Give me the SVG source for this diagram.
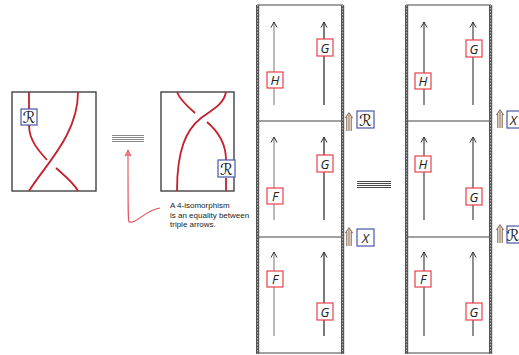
<svg xmlns="http://www.w3.org/2000/svg" width="519" height="355" viewBox="0 0 519 355">
  <style>
    .frame { fill: none; stroke: #333; stroke-width: 1.3; }
    .strand { fill: none; stroke: #c4202e; stroke-width: 1.8; stroke-linecap: butt; }
    .rbox { fill: #fff; stroke: #4a55a8; stroke-width: 1.2; }
    .lbox { fill: #fff; stroke: #e8404a; stroke-width: 1.2; }
    .script { font-family: "DejaVu Sans", sans-serif; font-size: 16px; fill: #111; text-anchor: middle; }
    .lbl { font-family: "Open Sans", "Liberation Sans", sans-serif; font-style: italic; font-size: 13px; fill: #222; text-anchor: middle; }
    .note { font-family: "Liberation Sans", "Arial", sans-serif; font-size: 8px; fill: #222; }
    .bar { fill: #555; }
    .barDash { stroke: #b8b8b8; stroke-width: 1; stroke-dasharray: 1.5 1.5; }
    .edge { stroke: #444; stroke-width: 1.2; }
    .wire1 { stroke: #8a8a8a; stroke-width: 1.2; fill: none; marker-end: url(#tip); }
    .wire2 { stroke: #222; stroke-width: 1.2; fill: none; marker-end: url(#tip); }
    .wire3 { stroke: #444; stroke-width: 1.2; fill: none; marker-end: url(#tip); }
    .triple { stroke: #8b6a4e; stroke-width: 1.1; fill: none; }
  </style>
  <defs>
    <!-- open arrowhead pointing along +x -->
    <marker id="tip" markerWidth="8" markerHeight="8" refX="7" refY="4" orient="auto" markerUnits="userSpaceOnUse" viewBox="0 0 8 8">
      <path d="M1.5,1 L7,4 L1.5,7" fill="none" stroke="#333" stroke-width="1"/>
    </marker>
    <marker id="redTip" markerWidth="8" markerHeight="8" refX="7" refY="4" orient="auto" markerUnits="userSpaceOnUse" viewBox="0 0 8 8">
      <path d="M7,4 L1,1 L2.5,4 L1,7 Z" fill="#f08a90" stroke="#e04a55" stroke-width="0.8"/>
    </marker>
    <!-- triple arrow glyph, tip at origin -->
    <g id="triple">
      <path class="triple" d="M-2.2,4 V18 M0,2 V18 M2.2,4 V18 M-3.6,5 L0,0 L3.6,5"/>
    </g>
  </defs>

  <!-- braid diagram with R on the left strand -->
  <g id="braid-left">
    <rect class="frame" x="12" y="92" width="84" height="99"/>
    <path class="strand" d="M78,92 C78,135 45,165 29,191"/>
    <path class="strand" d="M29,92 V125 C29,140 38,150 47,160"/>
    <path class="strand" d="M56,168 C65,176 74,183 78,191"/>
    <rect class="rbox" x="21" y="109" width="16" height="16"/>
    <text class="script" x="29" y="123">ℛ</text>
  </g>

  <!-- braid diagram with R on the right strand -->
  <g id="braid-right">
    <rect class="frame" x="161" y="92" width="73" height="99"/>
    <path class="strand" d="M226,92 C224,104 212,110 201,118 C186,130 177,150 177,191"/>
    <path class="strand" d="M177,92 C180,100 188,107 195,113"/>
    <path class="strand" d="M207,122 C220,133 226,145 226,160 M226,178 V191"/>
    <rect class="rbox" x="218" y="160" width="17" height="17"/>
    <text class="script" x="226.5" y="174.5">ℛ</text>
  </g>

  <!-- equivalence between the two braids -->
  <g id="equiv-left" stroke="#888" stroke-width="1">
    <line x1="112" y1="135.5" x2="144" y2="135.5"/>
    <line x1="112" y1="137.5" x2="144" y2="137.5"/>
    <line x1="112" y1="139.5" x2="144" y2="139.5"/>
    <line x1="112" y1="141.5" x2="144" y2="141.5"/>
  </g>

  <!-- annotation -->
  <g id="note">
    <path d="M160,208 C145,210 137,224 129,222 C128,221 128,215 128,150" fill="none" stroke="#e8505a" stroke-width="1.1" marker-end="url(#redTip)"/>
    <text class="note" x="170" y="208">A 4-isomorphism</text>
    <text class="note" x="170" y="217.5">is an equality between</text>
    <text class="note" x="170" y="227">triple arrows.</text>
  </g>

  <!-- left column of string diagrams -->
  <g id="column-left">
    <line class="edge" x1="257" y1="5" x2="343" y2="5"/>
    <line class="edge" x1="257" y1="121" x2="343" y2="121"/>
    <line class="edge" x1="257" y1="237" x2="343" y2="237"/>
    <line class="edge" x1="257" y1="353" x2="343" y2="353"/>
    <rect class="bar" x="256" y="5" width="3.2" height="349"/>
    <line class="barDash" x1="257.6" y1="5" x2="257.6" y2="354"/>
    <rect class="bar" x="341" y="5" width="3.2" height="349"/>
    <line class="barDash" x1="342.6" y1="5" x2="342.6" y2="354"/>
  </g>

  <!-- right column of string diagrams -->
  <g id="column-right">
    <line class="edge" x1="406" y1="5" x2="491" y2="5"/>
    <line class="edge" x1="406" y1="121" x2="491" y2="121"/>
    <line class="edge" x1="406" y1="237" x2="491" y2="237"/>
    <line class="edge" x1="406" y1="353" x2="491" y2="353"/>
    <rect class="bar" x="405" y="5" width="3.2" height="349"/>
    <line class="barDash" x1="406.6" y1="5" x2="406.6" y2="354"/>
    <rect class="bar" x="489" y="5" width="3.2" height="349"/>
    <line class="barDash" x1="490.6" y1="5" x2="490.6" y2="354"/>
  </g>

  <g id="connectors">
    <!-- left column -->
    <path class="wire1" d="M274,105 V22"/>
    <path class="wire2" d="M324,105 V22"/>
    <path class="wire1" d="M274,220 V137"/>
    <path class="wire2" d="M324,220 V137"/>
    <path class="wire1" d="M274,336 V252"/>
    <path class="wire2" d="M324,336 V252"/>
    <!-- right column -->
    <path class="wire3" d="M424,105 V22"/>
    <path class="wire3" d="M473,105 V22"/>
    <path class="wire3" d="M424,220 V137"/>
    <path class="wire3" d="M473,220 V137"/>
    <path class="wire3" d="M424,336 V252"/>
    <path class="wire3" d="M473,336 V252"/>
  </g>

  <!-- left column labels -->
  <g id="L-H"><rect class="lbox" x="267" y="72" width="16" height="16"/><text class="lbl" x="275" y="85">H</text></g>
  <g id="L-G1"><rect class="lbox" x="317" y="39" width="16" height="17"/><text class="lbl" x="325" y="52.5">G</text></g>
  <g id="L-F1"><rect class="lbox" x="267" y="188" width="16" height="16"/><text class="lbl" x="275" y="201">F</text></g>
  <g id="L-G2"><rect class="lbox" x="317" y="155" width="16" height="17"/><text class="lbl" x="325" y="168.5">G</text></g>
  <g id="L-F2"><rect class="lbox" x="267" y="271" width="16" height="16"/><text class="lbl" x="275" y="284">F</text></g>
  <g id="L-G3"><rect class="lbox" x="317" y="303" width="16" height="17"/><text class="lbl" x="325" y="316.5">G</text></g>

  <!-- right column labels -->
  <g id="R-H1"><rect class="lbox" x="415" y="73" width="16" height="16"/><text class="lbl" x="423" y="86">H</text></g>
  <g id="R-G1"><rect class="lbox" x="466" y="40" width="16" height="17"/><text class="lbl" x="474" y="53.5">G</text></g>
  <g id="R-H2"><rect class="lbox" x="415" y="156" width="16" height="16"/><text class="lbl" x="423" y="169">H</text></g>
  <g id="R-G2"><rect class="lbox" x="466" y="188" width="16" height="17"/><text class="lbl" x="474" y="201.5">G</text></g>
  <g id="R-F"><rect class="lbox" x="415" y="271" width="16" height="16"/><text class="lbl" x="423" y="284">F</text></g>
  <g id="R-G3"><rect class="lbox" x="466" y="303" width="16" height="17"/><text class="lbl" x="474" y="316.5">G</text></g>

  <!-- triple arrows with their labels -->
  <g id="t1"><use href="#triple" x="349" y="113"/><rect class="rbox" x="357" y="111" width="17" height="17"/><text class="script" x="365.5" y="125.5">ℛ</text></g>
  <g id="t2"><use href="#triple" x="349" y="228"/><rect class="rbox" x="357" y="229" width="17" height="17"/><text class="lbl" x="365.5" y="242.5">X</text></g>
  <g id="t3"><use href="#triple" x="500" y="110"/><rect class="rbox" x="507" y="111" width="17" height="17"/><text class="lbl" x="513.5" y="124.5">X</text></g>
  <g id="t4"><use href="#triple" x="500" y="225"/><rect class="rbox" x="507" y="226" width="17" height="17"/><text class="script" x="513" y="240.5">ℛ</text></g>

  <!-- equivalence between the two columns -->
  <g id="equiv-right" stroke="#333" stroke-width="0.9">
    <line x1="357" y1="181.5" x2="391" y2="181.5"/>
    <line x1="357" y1="183.5" x2="391" y2="183.5"/>
    <line x1="357" y1="185.5" x2="391" y2="185.5"/>
    <line x1="357" y1="187.5" x2="391" y2="187.5"/>
  </g>
</svg>
